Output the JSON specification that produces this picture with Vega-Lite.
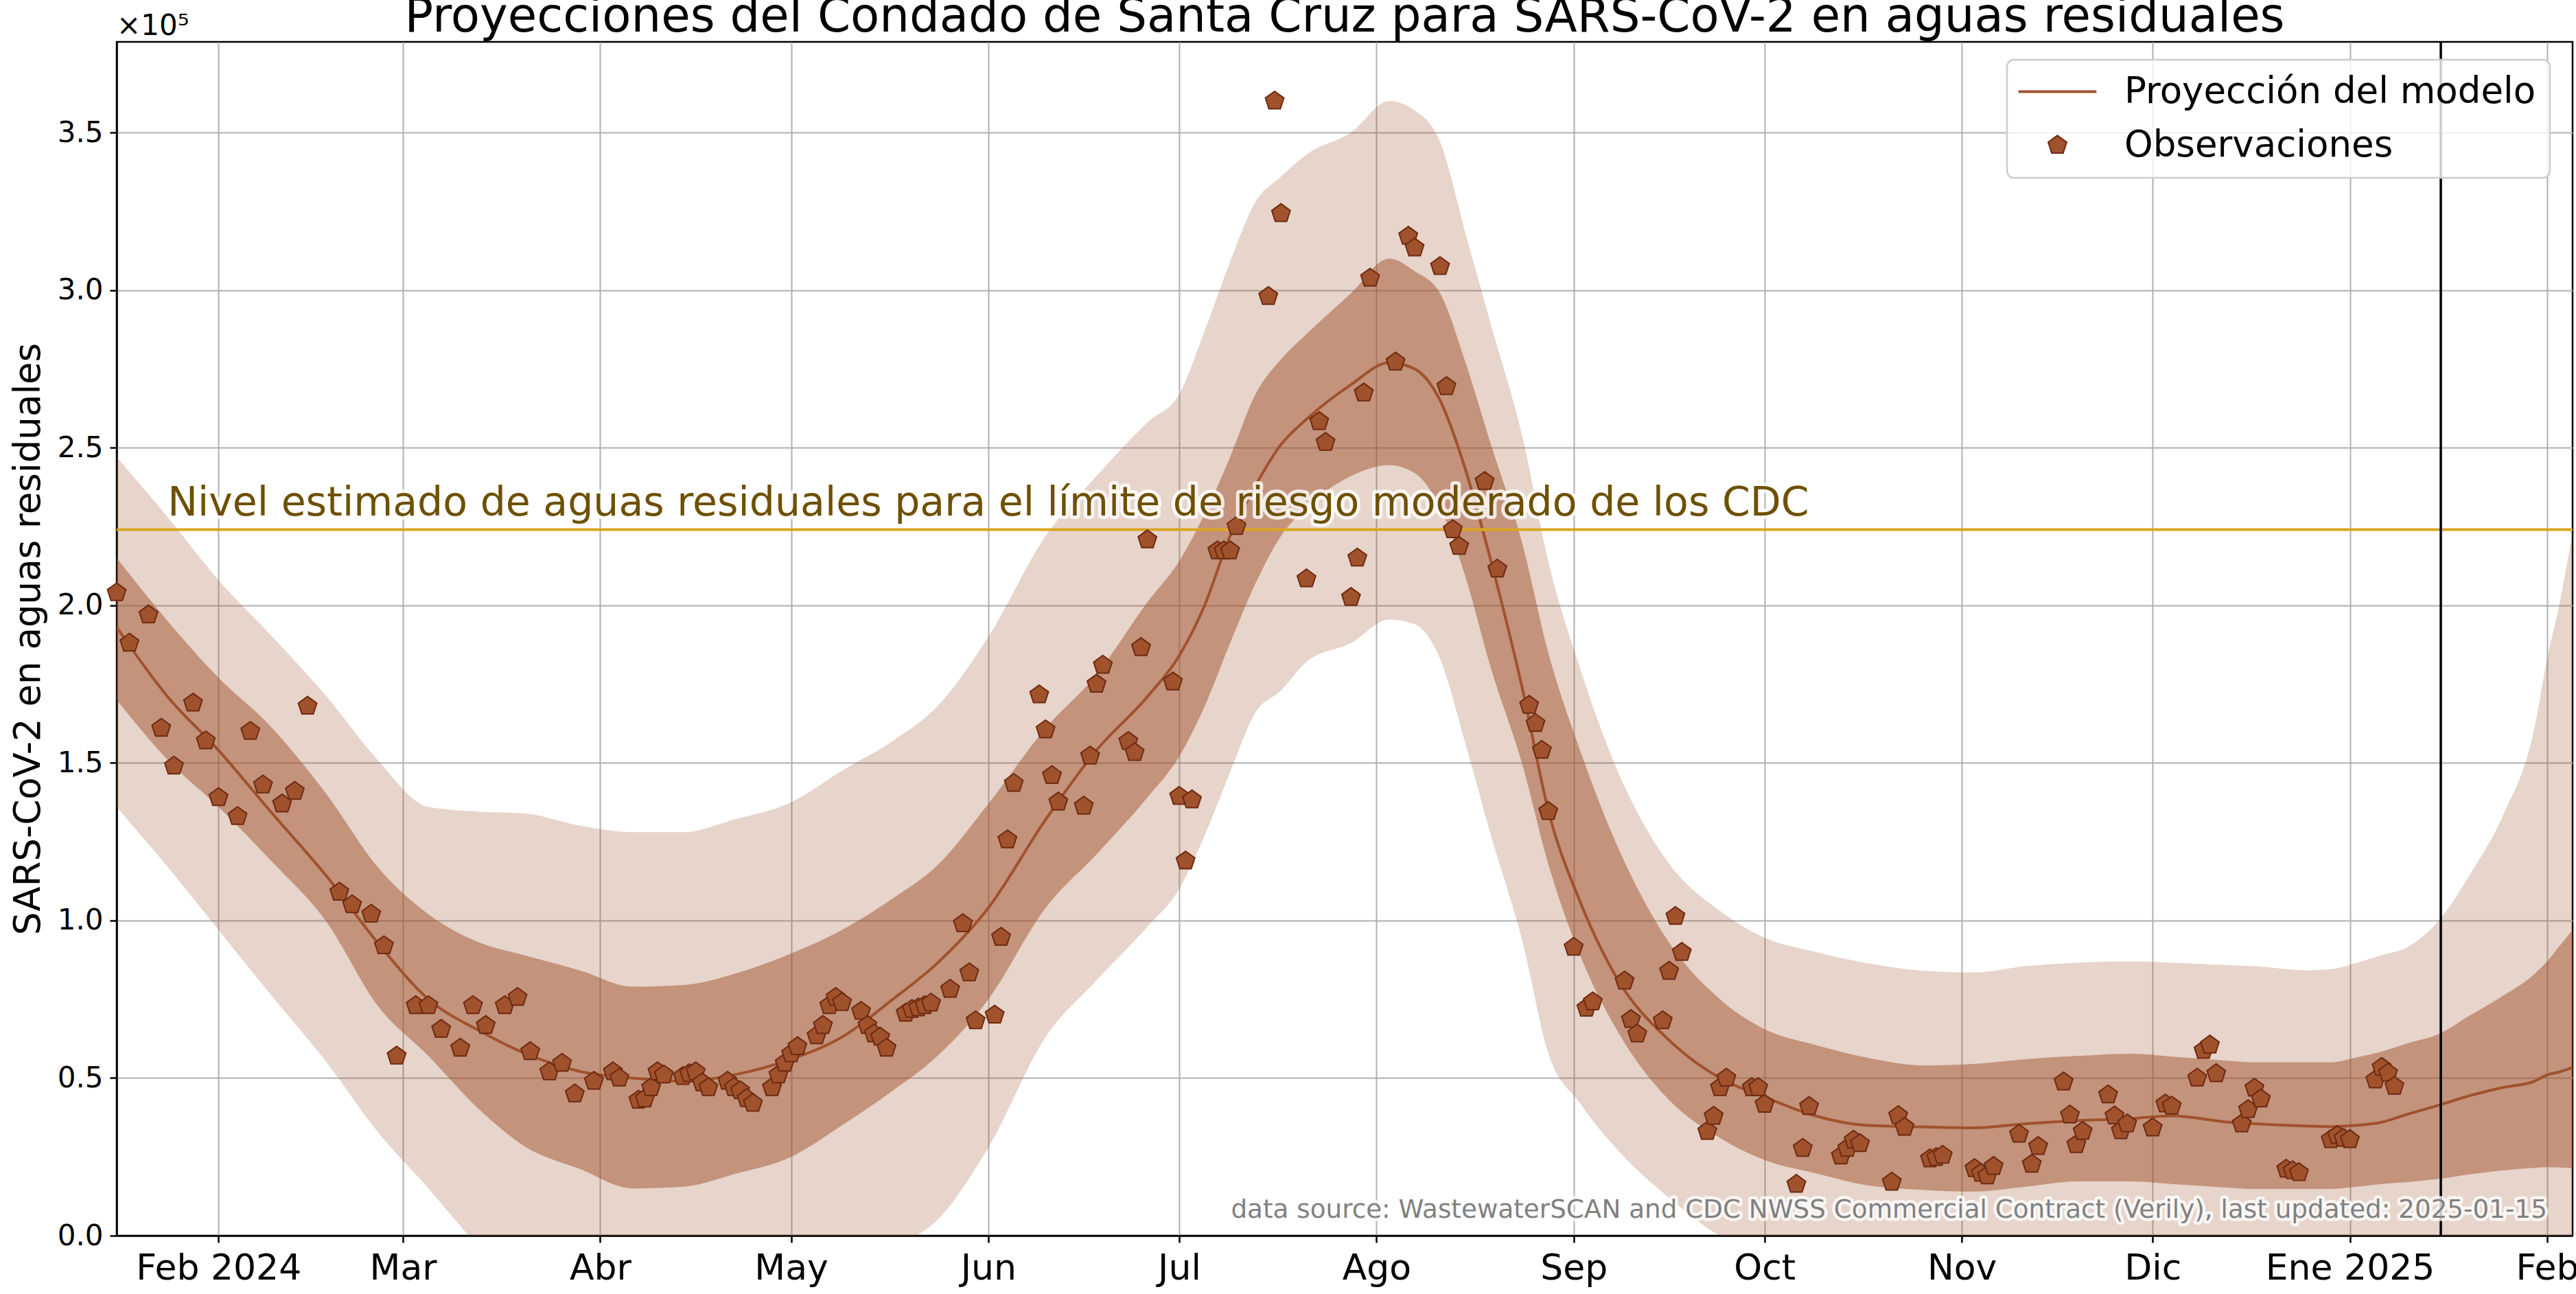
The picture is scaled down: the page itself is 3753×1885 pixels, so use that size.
{
  "$schema": "https://vega.github.io/schema/vega-lite/v6.json",
  "width": 3578,
  "height": 1739,
  "autosize": {"type": "none"},
  "padding": {"left": 170, "top": 61, "right": 5, "bottom": 85},
  "background": "white",
  "title": {
    "text": "Proyecciones del Condado de Santa Cruz para SARS-CoV-2 en aguas residuales",
    "font": "DejaVu Sans", "fontSize": 69, "fontWeight": "normal", "color": "black",
    "anchor": "middle", "frame": "group", "offset": -42.8, "limit": 4000
  },
  "config": {
    "font": "DejaVu Sans",
    "view": {"stroke": "black", "strokeWidth": 2.5},
    "legend": {
      "padding": 20, "rowPadding": 24, "symbolOffset": 27, "labelOffset": 71,
      "labelFontSize": 53, "labelFont": "DejaVu Sans", "labelColor": "black", "labelLimit": 0,
      "fillColor": "rgba(255,255,255,0.8)", "strokeColor": "#cccccc", "cornerRadius": 10,
      "strokeWidth": 2.5, "symbolSize": 800, "symbolStrokeWidth": 2
    }
  },
  "datasets": {
    "bands": [
      {"date": "2024-01-16", "lo95": 136000, "lo50": 170000, "med": 193000, "hi50": 215000, "hi95": 247000},
      {"date": "2024-01-24", "lo95": 117000, "lo50": 151000, "med": 171000, "hi50": 195000, "hi95": 228000},
      {"date": "2024-02-01", "lo95": 97000, "lo50": 136000, "med": 154000, "hi50": 177000, "hi95": 208000},
      {"date": "2024-02-09", "lo95": 77000, "lo50": 119500, "med": 135000, "hi50": 162000, "hi95": 191000},
      {"date": "2024-02-18", "lo95": 55000, "lo50": 99500, "med": 114000, "hi50": 140000, "hi95": 171000},
      {"date": "2024-02-26", "lo95": 33000, "lo50": 73000, "med": 93000, "hi50": 117000, "hi95": 151000},
      {"date": "2024-03-05", "lo95": 15000, "lo50": 57000, "med": 75000, "hi50": 102000, "hi95": 136000},
      {"date": "2024-03-13", "lo95": -4000, "lo50": 40000, "med": 65000, "hi50": 93000, "hi95": 134500},
      {"date": "2024-03-20", "lo95": -20000, "lo50": 28500, "med": 58000, "hi50": 89000, "hi95": 134000},
      {"date": "2024-03-29", "lo95": -30000, "lo50": 21000, "med": 52000, "hi50": 84000, "hi95": 130000},
      {"date": "2024-04-06", "lo95": -35000, "lo50": 15000, "med": 50000, "hi50": 79000, "hi95": 128000},
      {"date": "2024-04-14", "lo95": -35000, "lo50": 15500, "med": 49000, "hi50": 79500, "hi95": 128000},
      {"date": "2024-04-22", "lo95": -30000, "lo50": 19500, "med": 51000, "hi50": 83000, "hi95": 132000},
      {"date": "2024-05-01", "lo95": -25000, "lo50": 25000, "med": 56000, "hi50": 89500, "hi95": 137500},
      {"date": "2024-05-09", "lo95": -15000, "lo50": 35000, "med": 63000, "hi50": 97000, "hi95": 147500},
      {"date": "2024-05-17", "lo95": -4000, "lo50": 46000, "med": 75000, "hi50": 107000, "hi95": 157000},
      {"date": "2024-05-24", "lo95": 5000, "lo50": 57000, "med": 86500, "hi50": 117500, "hi95": 168000},
      {"date": "2024-06-01", "lo95": 28000, "lo50": 75000, "med": 104000, "hi50": 137000, "hi95": 190000},
      {"date": "2024-06-10", "lo95": 63000, "lo50": 104000, "med": 132000, "hi50": 161000, "hi95": 222000},
      {"date": "2024-06-18", "lo95": 81000, "lo50": 121000, "med": 154000, "hi50": 178000, "hi95": 241000},
      {"date": "2024-06-26", "lo95": 98000, "lo50": 139000, "med": 171000, "hi50": 201000, "hi95": 258000},
      {"date": "2024-07-01", "lo95": 110000, "lo50": 152000, "med": 184000, "hi50": 214000, "hi95": 267000},
      {"date": "2024-07-05", "lo95": 127000, "lo50": 168000, "med": 200000, "hi50": 229000, "hi95": 287000},
      {"date": "2024-07-09", "lo95": 147000, "lo50": 188000, "med": 222000, "hi50": 247000, "hi95": 309000},
      {"date": "2024-07-13", "lo95": 166000, "lo50": 207000, "med": 238000, "hi50": 267000, "hi95": 328000},
      {"date": "2024-07-17", "lo95": 173000, "lo50": 222000, "med": 251000, "hi50": 278000, "hi95": 336000},
      {"date": "2024-07-21", "lo95": 182000, "lo50": 231000, "med": 259000, "hi50": 286000, "hi95": 343000},
      {"date": "2024-07-28", "lo95": 188000, "lo50": 241000, "med": 270000, "hi50": 299000, "hi95": 350000},
      {"date": "2024-08-03", "lo95": 195500, "lo50": 244500, "med": 277000, "hi50": 310000, "hi95": 360000},
      {"date": "2024-08-07", "lo95": 194000, "lo50": 242000, "med": 275000, "hi50": 306000, "hi95": 357000},
      {"date": "2024-08-11", "lo95": 183000, "lo50": 231000, "med": 265000, "hi50": 299000, "hi95": 347000},
      {"date": "2024-08-15", "lo95": 156000, "lo50": 209000, "med": 243000, "hi50": 277000, "hi95": 318000},
      {"date": "2024-08-19", "lo95": 127000, "lo50": 180000, "med": 214000, "hi50": 251000, "hi95": 289000},
      {"date": "2024-08-24", "lo95": 93000, "lo50": 149000, "med": 173000, "hi50": 219000, "hi95": 253000},
      {"date": "2024-08-28", "lo95": 58000, "lo50": 118000, "med": 135000, "hi50": 185000, "hi95": 214000},
      {"date": "2024-09-02", "lo95": 42000, "lo50": 89000, "med": 106000, "hi50": 154000, "hi95": 180000},
      {"date": "2024-09-08", "lo95": 27000, "lo50": 64500, "med": 81000, "hi50": 123000, "hi95": 147000},
      {"date": "2024-09-16", "lo95": 12000, "lo50": 43000, "med": 62000, "hi50": 93000, "hi95": 118000},
      {"date": "2024-09-24", "lo95": 0, "lo50": 31000, "med": 50000, "hi50": 75000, "hi95": 103000},
      {"date": "2024-10-01", "lo95": -5000, "lo50": 24000, "med": 44000, "hi50": 65500, "hi95": 94500},
      {"date": "2024-10-09", "lo95": -10000, "lo50": 19800, "med": 38000, "hi50": 60500, "hi95": 90000},
      {"date": "2024-10-17", "lo95": -10000, "lo50": 16000, "med": 35000, "hi50": 56500, "hi95": 86500},
      {"date": "2024-10-26", "lo95": -10000, "lo50": 14500, "med": 34500, "hi50": 54000, "hi95": 84000},
      {"date": "2024-11-03", "lo95": -10000, "lo50": 14000, "med": 34200, "hi50": 54500, "hi95": 83500},
      {"date": "2024-11-11", "lo95": -10000, "lo50": 15500, "med": 35500, "hi50": 56000, "hi95": 85500},
      {"date": "2024-11-19", "lo95": -10000, "lo50": 17200, "med": 36500, "hi50": 57000, "hi95": 86600},
      {"date": "2024-11-28", "lo95": -10000, "lo50": 17200, "med": 37200, "hi50": 57700, "hi95": 87000},
      {"date": "2024-12-04", "lo95": -10000, "lo50": 16400, "med": 38000, "hi50": 56800, "hi95": 86600},
      {"date": "2024-12-13", "lo95": -10000, "lo50": 15200, "med": 36000, "hi50": 55500, "hi95": 85800},
      {"date": "2024-12-17", "lo95": -10000, "lo50": 14800, "med": 35500, "hi50": 55000, "hi95": 85500},
      {"date": "2024-12-25", "lo95": -10000, "lo50": 14800, "med": 34800, "hi50": 55000, "hi95": 84200},
      {"date": "2024-12-29", "lo95": -10000, "lo50": 14800, "med": 34600, "hi50": 55000, "hi95": 84500},
      {"date": "2025-01-02", "lo95": -10000, "lo50": 15500, "med": 35000, "hi50": 56500, "hi95": 86500},
      {"date": "2025-01-06", "lo95": -10000, "lo50": 16400, "med": 36000, "hi50": 58400, "hi95": 89000},
      {"date": "2025-01-10", "lo95": -10000, "lo50": 17000, "med": 38500, "hi50": 61000, "hi95": 91500},
      {"date": "2025-01-15", "lo95": -10000, "lo50": 18000, "med": 41400, "hi50": 64000, "hi95": 100000},
      {"date": "2025-01-20", "lo95": -10000, "lo50": 19500, "med": 44500, "hi50": 70000, "hi95": 115000},
      {"date": "2025-01-25", "lo95": -10000, "lo50": 20700, "med": 47000, "hi50": 76000, "hi95": 133000},
      {"date": "2025-01-30", "lo95": -10000, "lo50": 21500, "med": 49000, "hi50": 83000, "hi95": 161000},
      {"date": "2025-02-01", "lo95": -10000, "lo50": 21700, "med": 51000, "hi50": 87000, "hi95": 183000},
      {"date": "2025-02-03", "lo95": -10000, "lo50": 21600, "med": 52000, "hi50": 92000, "hi95": 201000},
      {"date": "2025-02-05", "lo95": -10000, "lo50": 21400, "med": 53400, "hi50": 97000, "hi95": 223000}
    ],
    "obs": [
      {"date": "2024-01-16", "v": 204000}, {"date": "2024-01-18", "v": 188000}, {"date": "2024-01-21", "v": 197000},
      {"date": "2024-01-23", "v": 161000}, {"date": "2024-01-25", "v": 149000}, {"date": "2024-01-28", "v": 169000},
      {"date": "2024-01-30", "v": 157000}, {"date": "2024-02-01", "v": 139000}, {"date": "2024-02-04", "v": 133000},
      {"date": "2024-02-06", "v": 160000}, {"date": "2024-02-08", "v": 143000}, {"date": "2024-02-11", "v": 137000},
      {"date": "2024-02-13", "v": 141000}, {"date": "2024-02-15", "v": 168000}, {"date": "2024-02-20", "v": 109000},
      {"date": "2024-02-22", "v": 105000}, {"date": "2024-02-25", "v": 102000}, {"date": "2024-02-27", "v": 92000},
      {"date": "2024-02-29", "v": 57000}, {"date": "2024-03-03", "v": 73000}, {"date": "2024-03-05", "v": 73000},
      {"date": "2024-03-07", "v": 65500}, {"date": "2024-03-10", "v": 59500}, {"date": "2024-03-12", "v": 73000},
      {"date": "2024-03-14", "v": 66700}, {"date": "2024-03-17", "v": 73000}, {"date": "2024-03-19", "v": 75600},
      {"date": "2024-03-21", "v": 58400}, {"date": "2024-03-24", "v": 52000}, {"date": "2024-03-26", "v": 54700},
      {"date": "2024-03-28", "v": 45000}, {"date": "2024-03-31", "v": 49000}, {"date": "2024-04-03", "v": 52000},
      {"date": "2024-04-04", "v": 50000}, {"date": "2024-04-07", "v": 43000}, {"date": "2024-04-08", "v": 43400},
      {"date": "2024-04-09", "v": 47000}, {"date": "2024-04-10", "v": 52000}, {"date": "2024-04-11", "v": 51000},
      {"date": "2024-04-14", "v": 50500}, {"date": "2024-04-15", "v": 51400}, {"date": "2024-04-16", "v": 52000},
      {"date": "2024-04-17", "v": 48500}, {"date": "2024-04-18", "v": 47000}, {"date": "2024-04-21", "v": 49000},
      {"date": "2024-04-22", "v": 47000}, {"date": "2024-04-23", "v": 46000}, {"date": "2024-04-24", "v": 43500},
      {"date": "2024-04-25", "v": 42000}, {"date": "2024-04-28", "v": 47000}, {"date": "2024-04-29", "v": 51000},
      {"date": "2024-04-30", "v": 54700}, {"date": "2024-05-01", "v": 57700}, {"date": "2024-05-02", "v": 60000},
      {"date": "2024-05-05", "v": 63400}, {"date": "2024-05-06", "v": 66700}, {"date": "2024-05-07", "v": 73000},
      {"date": "2024-05-08", "v": 75600}, {"date": "2024-05-09", "v": 74000}, {"date": "2024-05-12", "v": 71200},
      {"date": "2024-05-13", "v": 66700}, {"date": "2024-05-14", "v": 64000}, {"date": "2024-05-15", "v": 63000},
      {"date": "2024-05-16", "v": 59500}, {"date": "2024-05-19", "v": 70600}, {"date": "2024-05-20", "v": 71800},
      {"date": "2024-05-21", "v": 72300}, {"date": "2024-05-22", "v": 73000}, {"date": "2024-05-23", "v": 73800},
      {"date": "2024-05-26", "v": 78200}, {"date": "2024-05-28", "v": 99000}, {"date": "2024-05-29", "v": 83400},
      {"date": "2024-05-30", "v": 68200}, {"date": "2024-06-02", "v": 70000}, {"date": "2024-06-03", "v": 94700},
      {"date": "2024-06-04", "v": 125600}, {"date": "2024-06-05", "v": 143500}, {"date": "2024-06-09", "v": 171600},
      {"date": "2024-06-10", "v": 160500}, {"date": "2024-06-11", "v": 146000}, {"date": "2024-06-12", "v": 137600},
      {"date": "2024-06-16", "v": 136300}, {"date": "2024-06-17", "v": 152200}, {"date": "2024-06-18", "v": 175000},
      {"date": "2024-06-19", "v": 181000}, {"date": "2024-06-23", "v": 156800}, {"date": "2024-06-24", "v": 153300},
      {"date": "2024-06-25", "v": 186600}, {"date": "2024-06-26", "v": 220800}, {"date": "2024-06-30", "v": 175700},
      {"date": "2024-07-01", "v": 139400}, {"date": "2024-07-02", "v": 118900}, {"date": "2024-07-03", "v": 138300},
      {"date": "2024-07-07", "v": 217300}, {"date": "2024-07-08", "v": 217300}, {"date": "2024-07-09", "v": 217300},
      {"date": "2024-07-10", "v": 225000}, {"date": "2024-07-15", "v": 298000}, {"date": "2024-07-16", "v": 360000},
      {"date": "2024-07-17", "v": 324300}, {"date": "2024-07-21", "v": 208400}, {"date": "2024-07-23", "v": 258300},
      {"date": "2024-07-24", "v": 251700}, {"date": "2024-07-28", "v": 202500}, {"date": "2024-07-29", "v": 215000},
      {"date": "2024-07-30", "v": 267400}, {"date": "2024-07-31", "v": 303800}, {"date": "2024-08-04", "v": 277200},
      {"date": "2024-08-06", "v": 317100}, {"date": "2024-08-07", "v": 313400}, {"date": "2024-08-11", "v": 307500},
      {"date": "2024-08-12", "v": 269400}, {"date": "2024-08-13", "v": 224000}, {"date": "2024-08-14", "v": 218700},
      {"date": "2024-08-18", "v": 239300}, {"date": "2024-08-20", "v": 211500}, {"date": "2024-08-25", "v": 168300},
      {"date": "2024-08-26", "v": 162500}, {"date": "2024-08-27", "v": 154000}, {"date": "2024-08-28", "v": 134600},
      {"date": "2024-09-01", "v": 91500}, {"date": "2024-09-03", "v": 72200}, {"date": "2024-09-04", "v": 74200},
      {"date": "2024-09-09", "v": 80800}, {"date": "2024-09-10", "v": 68600}, {"date": "2024-09-11", "v": 64000},
      {"date": "2024-09-15", "v": 68200}, {"date": "2024-09-16", "v": 83900}, {"date": "2024-09-17", "v": 101300},
      {"date": "2024-09-18", "v": 89900}, {"date": "2024-09-22", "v": 33100}, {"date": "2024-09-23", "v": 37900},
      {"date": "2024-09-24", "v": 47000}, {"date": "2024-09-25", "v": 50000}, {"date": "2024-09-29", "v": 47000},
      {"date": "2024-09-30", "v": 47000}, {"date": "2024-10-01", "v": 41700}, {"date": "2024-10-06", "v": 16300},
      {"date": "2024-10-07", "v": 27700}, {"date": "2024-10-08", "v": 41000}, {"date": "2024-10-13", "v": 25300},
      {"date": "2024-10-14", "v": 27700}, {"date": "2024-10-15", "v": 30300}, {"date": "2024-10-16", "v": 29200},
      {"date": "2024-10-21", "v": 17000}, {"date": "2024-10-22", "v": 38100}, {"date": "2024-10-23", "v": 34400},
      {"date": "2024-10-27", "v": 24400}, {"date": "2024-10-28", "v": 24800}, {"date": "2024-10-29", "v": 25500},
      {"date": "2024-11-03", "v": 21300}, {"date": "2024-11-04", "v": 19800}, {"date": "2024-11-05", "v": 19000},
      {"date": "2024-11-06", "v": 22000}, {"date": "2024-11-10", "v": 32200}, {"date": "2024-11-12", "v": 22700},
      {"date": "2024-11-13", "v": 28300}, {"date": "2024-11-17", "v": 48800}, {"date": "2024-11-18", "v": 38300},
      {"date": "2024-11-19", "v": 28900}, {"date": "2024-11-20", "v": 33100}, {"date": "2024-11-24", "v": 44700},
      {"date": "2024-11-25", "v": 38000}, {"date": "2024-11-26", "v": 33300}, {"date": "2024-11-27", "v": 35500},
      {"date": "2024-12-01", "v": 34200}, {"date": "2024-12-03", "v": 41800}, {"date": "2024-12-04", "v": 41100},
      {"date": "2024-12-08", "v": 50000}, {"date": "2024-12-09", "v": 58800}, {"date": "2024-12-10", "v": 60500},
      {"date": "2024-12-11", "v": 51400}, {"date": "2024-12-15", "v": 35500}, {"date": "2024-12-16", "v": 40000},
      {"date": "2024-12-17", "v": 46800}, {"date": "2024-12-18", "v": 43400}, {"date": "2024-12-22", "v": 21100},
      {"date": "2024-12-23", "v": 20600}, {"date": "2024-12-24", "v": 20000}, {"date": "2024-12-29", "v": 30500},
      {"date": "2024-12-30", "v": 31800}, {"date": "2024-12-31", "v": 30900}, {"date": "2025-01-01", "v": 30500},
      {"date": "2025-01-05", "v": 49400}, {"date": "2025-01-06", "v": 53400}, {"date": "2025-01-07", "v": 51600},
      {"date": "2025-01-08", "v": 47400}
    ]
  },
  "layer": [
    {
      "data": {"name": "bands"},
      "mark": {"type": "area", "color": "#a0522d", "opacity": 0.25, "interpolate": "monotone", "clip": true},
      "encoding": {
        "x": {
          "field": "date", "type": "temporal",
          "scale": {"type": "utc", "domain": [{"year": 2024, "month": 1, "date": 16, "utc": true}, {"year": 2025, "month": 2, "date": 5, "utc": true}], "nice": false},
          "axis": {
            "title": null, "grid": true, "gridColor": "#b0b0b0", "gridWidth": 2,
            "domainColor": "black", "domainWidth": 2.5, "tickColor": "black", "tickWidth": 2.5, "tickSize": 10,
            "labelFont": "DejaVu Sans", "labelFontSize": 52, "labelColor": "black", "labelPadding": 12,
            "labelLimit": 1000, "labelOverlap": false, "labelFlush": false,
            "values": [
              {"year": 2024, "month": 2, "date": 1, "utc": true}, {"year": 2024, "month": 3, "date": 1, "utc": true},
              {"year": 2024, "month": 4, "date": 1, "utc": true}, {"year": 2024, "month": 5, "date": 1, "utc": true},
              {"year": 2024, "month": 6, "date": 1, "utc": true}, {"year": 2024, "month": 7, "date": 1, "utc": true},
              {"year": 2024, "month": 8, "date": 1, "utc": true}, {"year": 2024, "month": 9, "date": 1, "utc": true},
              {"year": 2024, "month": 10, "date": 1, "utc": true}, {"year": 2024, "month": 11, "date": 1, "utc": true},
              {"year": 2024, "month": 12, "date": 1, "utc": true}, {"year": 2025, "month": 1, "date": 1, "utc": true},
              {"year": 2025, "month": 2, "date": 1, "utc": true}
            ],
            "labelExpr": "['Ene','Feb','Mar','Abr','May','Jun','Jul','Ago','Sep','Oct','Nov','Dic'][utcmonth(datum.value)] + ((utcmonth(datum.value) == 0 || (utcmonth(datum.value) == 1 && utcyear(datum.value) == 2024)) ? ' ' + utcyear(datum.value) : '')"
          }
        },
        "y": {
          "field": "lo95", "type": "quantitative",
          "scale": {"domain": [0, 378750], "nice": false, "zero": false},
          "axis": {
            "title": "SARS-CoV-2 en aguas residuales", "titleFont": "DejaVu Sans", "titleFontSize": 53,
            "titleFontWeight": "normal", "titleColor": "black", "titleAngle": 270, "titleAlign": "center",
            "titleBaseline": "alphabetic", "titleX": -113, "titleY": 869.5, "titleLimit": 3000,
            "grid": true, "gridColor": "#b0b0b0", "gridWidth": 2,
            "domainColor": "black", "domainWidth": 2.5, "tickColor": "black", "tickWidth": 2.5, "tickSize": 10,
            "labelFont": "DejaVu Sans", "labelFontSize": 42, "labelColor": "black", "labelPadding": 10,
            "labelLimit": 1000, "labelOverlap": false, "labelFlush": false,
            "values": [0, 50000, 100000, 150000, 200000, 250000, 300000, 350000],
            "labelExpr": "format(datum.value / 100000, '.1f')"
          }
        },
        "y2": {"field": "hi95"}
      }
    },
    {
      "data": {"name": "bands"},
      "mark": {"type": "area", "color": "#a0522d", "opacity": 0.5, "interpolate": "monotone", "clip": true},
      "encoding": {
        "x": {"field": "date", "type": "temporal"},
        "y": {"field": "lo50", "type": "quantitative"},
        "y2": {"field": "hi50"}
      }
    },
    {
      "data": {"name": "bands"},
      "mark": {"type": "line", "color": "#a0522d", "strokeWidth": 4, "interpolate": "monotone", "clip": true},
      "encoding": {
        "x": {"field": "date", "type": "temporal"},
        "y": {"field": "med", "type": "quantitative"}
      }
    },
    {
      "data": {"values": [{"umbral": 224000}]},
      "mark": {"type": "rule", "color": "#daa520", "strokeWidth": 4},
      "encoding": {"y": {"field": "umbral", "type": "quantitative"}}
    },
    {
      "data": {"values": [{"date": "2025-01-15T07:00:00Z"}]},
      "mark": {"type": "rule", "color": "black", "strokeWidth": 3.5},
      "encoding": {"x": {"field": "date", "type": "temporal"}}
    },
    {
      "data": {"name": "obs"},
      "transform": [{"calculate": "'Observaciones'", "as": "serie"}],
      "mark": {"type": "point", "filled": true, "opacity": 1, "size": 800, "strokeWidth": 2},
      "encoding": {
        "x": {"field": "date", "type": "temporal"},
        "y": {"field": "v", "type": "quantitative"},
        "color": {
          "field": "serie", "type": "nominal",
          "scale": {"domain": ["Proyección del modelo", "Observaciones"], "range": ["#a0522d", "#a0522d"]},
          "legend": {"title": null, "orient": "none", "legendX": 2754, "legendY": 26}
        },
        "shape": {
          "field": "serie", "type": "nominal",
          "scale": {"domain": ["Proyección del modelo", "Observaciones"],
                    "range": ["M-3.95,-0.075L3.95,-0.075L3.95,0.075L-3.95,0.075Z", "M0,-1L0.951,-0.309L0.588,0.809L-0.588,0.809L-0.951,-0.309Z"]},
          "legend": {"title": null, "orient": "none", "legendX": 2754, "legendY": 26}
        },
        "stroke": {
          "field": "serie", "type": "nominal",
          "scale": {"domain": ["Proyección del modelo", "Observaciones"], "range": ["#a0522d", "#6e2a10"]},
          "legend": {"title": null, "orient": "none", "legendX": 2754, "legendY": 26}
        }
      }
    },
    {
      "data": {"values": [{"date": "2024-01-24", "v": 228440, "label": "Nivel estimado de aguas residuales para el límite de riesgo moderado de los CDC"}]},
      "mark": {"type": "text", "align": "left", "baseline": "alphabetic", "font": "DejaVu Sans", "fontSize": 58.5,
               "fill": "white", "stroke": "white", "strokeWidth": 10, "strokeOpacity": 0.8, "strokeJoin": "round"},
      "encoding": {
        "x": {"field": "date", "type": "temporal"},
        "y": {"field": "v", "type": "quantitative"},
        "text": {"field": "label"}
      }
    },
    {
      "data": {"values": [{"date": "2024-01-24", "v": 228440, "label": "Nivel estimado de aguas residuales para el límite de riesgo moderado de los CDC"}]},
      "mark": {"type": "text", "align": "left", "baseline": "alphabetic", "font": "DejaVu Sans", "fontSize": 58.5, "color": "#6e5000"},
      "encoding": {
        "x": {"field": "date", "type": "temporal"},
        "y": {"field": "v", "type": "quantitative"},
        "text": {"field": "label"}
      }
    },
    {
      "data": {"values": [{"date": "2025-02-01", "v": 5660, "label": "data source: WastewaterSCAN and CDC NWSS Commercial Contract (Verily), last updated: 2025-01-15"}]},
      "mark": {"type": "text", "align": "right", "baseline": "alphabetic", "font": "DejaVu Sans", "fontSize": 37.3,
               "fill": "white", "stroke": "white", "strokeWidth": 9, "strokeOpacity": 0.8, "strokeJoin": "round"},
      "encoding": {
        "x": {"field": "date", "type": "temporal"},
        "y": {"field": "v", "type": "quantitative"},
        "text": {"field": "label"}
      }
    },
    {
      "data": {"values": [{"date": "2025-02-01", "v": 5660, "label": "data source: WastewaterSCAN and CDC NWSS Commercial Contract (Verily), last updated: 2025-01-15"}]},
      "mark": {"type": "text", "align": "right", "baseline": "alphabetic", "font": "DejaVu Sans", "fontSize": 37.3, "color": "#808080"},
      "encoding": {
        "x": {"field": "date", "type": "temporal"},
        "y": {"field": "v", "type": "quantitative"},
        "text": {"field": "label"}
      }
    },
    {
      "data": {"values": [{"date": "2024-01-16", "v": 380940, "label": "×10⁵"}]},
      "mark": {"type": "text", "align": "left", "baseline": "alphabetic", "font": "DejaVu Sans", "fontSize": 42, "color": "black"},
      "encoding": {
        "x": {"field": "date", "type": "temporal"},
        "y": {"field": "v", "type": "quantitative"},
        "text": {"field": "label"}
      }
    }
  ]
}
